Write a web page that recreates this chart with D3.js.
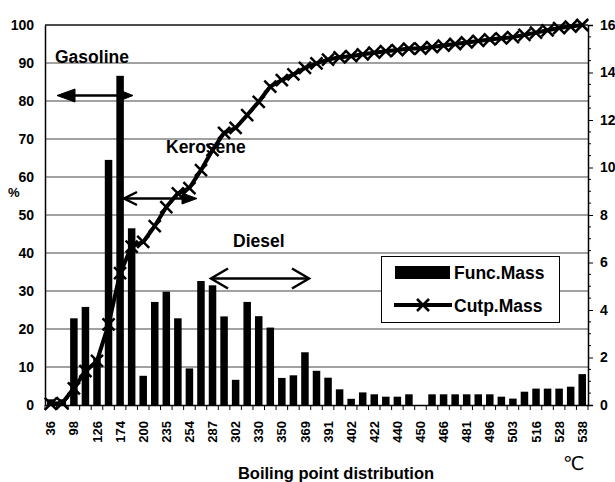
<!DOCTYPE html>
<html>
<head>
<meta charset="utf-8">
<script src="https://cdn.jsdelivr.net/npm/d3@7"></script>
<style>
  html, body { margin: 0; padding: 0; background: #fff; }
  svg { display: block; }
  text { font-family: "Liberation Sans", Arial, sans-serif; font-weight: bold; fill: #000; }
</style>
</head>
<body>
<svg id="chart" width="615" height="482"></svg>
<script>
// ---- data ----
const tickLabels = ["36","98","126","174","200","235","254","287","302","330","350","369",
                    "391","402","422","440","450","466","481","496","503","516","528","538"];
// Func.Mass, right axis (0-16)
const funcMass = [0.24, 0.24, 3.65, 4.13, 1.95, 10.32, 13.86, 7.44, 1.23, 4.34, 4.77, 3.65,
                  1.54, 5.22, 5.04, 3.73, 1.06, 4.34, 3.74, 3.26, 1.14, 1.25, 2.22, 1.44,
                  1.15, 0.66, 0.26, 0.53, 0.45, 0.35, 0.35, 0.45, 0.0, 0.45, 0.45, 0.45,
                  0.45, 0.45, 0.45, 0.35, 0.27, 0.56, 0.69, 0.69, 0.69, 0.77, 1.30];
// Cutp.Mass, left axis (%)
const cutpMass = [0.3, 0.5, 4.4, 8.9, 11.6, 21.2, 34.7, 41.7, 42.9, 47.1, 52.1, 55.7,
                  57.1, 61.8, 67.1, 71.6, 72.9, 76.3, 79.8, 83.8, 85.5, 87.0, 88.7, 89.9,
                  90.9, 91.5, 91.8, 92.3, 92.7, 93.1, 93.4, 93.8, 93.8, 94.2, 94.6, 95.0,
                  95.4, 95.8, 96.2, 96.5, 96.8, 97.4, 98.0, 98.6, 99.2, 99.6, 100];
const leftTicks = [0,10,20,30,40,50,60,70,80,90,100];
const rightTicks = [0,2,4,6,8,10,12,14,16];
const annotations = [
  {label: "Gasoline", tx: 55, ty: 63},
  {label: "Kerosene", tx: 166, ty: 153},
  {label: "Diesel", tx: 233, ty: 247}
];
const seriesNames = ["Func.Mass", "Cutp.Mass"];

// ---- layout ----
const L = 45, R = 588, T = 25, B = 405;
const svg = d3.select("#chart");
const idx = d3.range(funcMass.length);

const x = d3.scaleBand().domain(idx).range([L, R]).paddingInner(0.35).paddingOuter(0.175);
const yL = d3.scaleLinear().domain([0, 100]).range([B, T]);
const yR = d3.scaleLinear().domain([0, 16]).range([B, T]);
const cx = i => x(i) + x.bandwidth() / 2;

// gridlines
svg.append("g").selectAll("line").data(leftTicks.filter(d => d > 0)).join("line")
  .attr("x1", L).attr("x2", R)
  .attr("y1", d => yL(d)).attr("y2", d => yL(d))
  .attr("stroke", d => d === 100 ? "#111" : "#444").attr("stroke-width", d => d === 100 ? 1.5 : 1.1);

// bars
svg.append("g").selectAll("rect").data(idx).join("rect")
  .attr("x", i => x(i)).attr("width", x.bandwidth())
  .attr("y", i => yR(funcMass[i])).attr("height", i => B - yR(funcMass[i]))
  .attr("fill", "#000");

// left axis
const gl = svg.append("g").attr("transform", `translate(${L},0)`)
  .call(d3.axisLeft(yL).tickValues(leftTicks).tickSize(0).tickPadding(11));
gl.select(".domain").attr("stroke", "#000").attr("stroke-width", 1.5);
gl.selectAll("text").style("font-size", "14px").style("font-family", "'Liberation Sans', Arial, sans-serif").style("font-weight", "bold");

// right axis
const gr = svg.append("g").attr("transform", `translate(${R},0)`)
  .call(d3.axisRight(yR).tickValues(rightTicks).tickSize(5).tickPadding(7));
gr.select(".domain").attr("stroke", "#000").attr("stroke-width", 1.5);
gr.selectAll("line").attr("stroke", "#000");
gr.selectAll("text").style("font-size", "14px").style("font-family", "'Liberation Sans', Arial, sans-serif").style("font-weight", "bold");
// minor ticks on right axis
svg.append("g").selectAll("line").data(d3.range(0, 16.01, 0.5).filter(v => v % 2 !== 0)).join("line")
  .attr("x1", R).attr("x2", R + 3).attr("y1", d => yR(d)).attr("y2", d => yR(d))
  .attr("stroke", "#000").attr("stroke-width", 1);

// bottom axis
const gb = svg.append("g").attr("transform", `translate(0,${B})`)
  .call(d3.axisBottom(x).tickSize(0).tickPadding(0)
        .tickFormat(i => i % 2 === 0 ? tickLabels[i / 2] : ""));
gb.select(".domain").attr("stroke", "#000").attr("stroke-width", 1.5);
gb.selectAll(".tick text")
  .attr("transform", "translate(0,16) rotate(-90)")
  .attr("text-anchor", "end").attr("x", 0).attr("y", 0).attr("dy", "0.35em")
  .style("font-size", "13px").style("font-family", "'Liberation Sans', Arial, sans-serif").style("font-weight", "bold");
// boundary ticks between categories
svg.append("g").selectAll("line").data(idx.concat([idx.length])).join("line")
  .attr("x1", i => L + i * x.step())
  .attr("x2", i => L + i * x.step())
  .attr("y1", B).attr("y2", B + 5)
  .attr("stroke", "#000").attr("stroke-width", 1);

// axis titles
svg.append("text").attr("x", 8).attr("y", 197).style("font-size", "13px").text("%");
svg.append("text").attr("x", 336).attr("y", 479).attr("text-anchor", "middle")
  .style("font-size", "16.5px").text("Boiling point distribution");
svg.append("text").attr("x", 563).attr("y", 470).style("font-size", "19px")
  .style("font-family", "'DejaVu Sans', sans-serif").style("font-weight", "normal").text("℃");

// annotation texts
svg.append("g").selectAll("text").data(annotations).join("text")
  .attr("x", d => d.tx).attr("y", d => d.ty).style("font-size", "17.5px").text(d => d.label);

// arrows
const ag = svg.append("g").attr("stroke", "#000").attr("stroke-width", 2.5).attr("fill", "#000");
// Gasoline
ag.append("line").attr("x1", 62).attr("x2", 128).attr("y1", 95.5).attr("y2", 95.5);
ag.append("path").attr("d", "M57,95.5 L75,89 L75,102 Z").attr("stroke-width", 1);
ag.append("path").attr("d", "M133,95.5 L119,90 L119,101 Z").attr("stroke-width", 1);
// Kerosene
ag.append("line").attr("x1", 124).attr("x2", 192).attr("y1", 198.5).attr("y2", 198.5);
ag.append("path").attr("d", "M137,192 L124,198.5 L137,205").attr("fill", "none");
ag.append("path").attr("d", "M197,198.5 L182,193 L182,204 Z").attr("stroke-width", 1);
// Diesel
ag.append("line").attr("x1", 211).attr("x2", 309).attr("y1", 278.5).attr("y2", 278.5);
ag.append("path").attr("d", "M228,268.5 L211,278.5 L228,288.5").attr("fill", "none");
ag.append("path").attr("d", "M292,268.5 L309,278.5 L292,288.5").attr("fill", "none");

// cumulative line
const line = d3.line().x(i => cx(i)).y(i => yL(cutpMass[i]));
svg.append("path").datum(idx).attr("d", line)
  .attr("fill", "none").attr("stroke", "#000").attr("stroke-width", 4).attr("stroke-linejoin", "round");
const xm = (px, py, s) => `M${px - s},${py - s}L${px + s},${py + s}M${px - s},${py + s}L${px + s},${py - s}`;
svg.append("g").selectAll("path").data(idx).join("path")
  .attr("d", i => xm(cx(i), yL(cutpMass[i]), 6))
  .attr("stroke", "#000").attr("stroke-width", 2.5).attr("fill", "none");

// legend
const lg = svg.append("g");
lg.append("rect").attr("x", 381.5).attr("y", 256.5).attr("width", 178).attr("height", 66)
  .attr("fill", "#fff").attr("stroke", "#000").attr("stroke-width", 1);
lg.append("rect").attr("x", 395).attr("y", 266).attr("width", 55).attr("height", 13).attr("fill", "#000");
lg.append("text").attr("x", 454).attr("y", 279).style("font-size", "17.5px").text(seriesNames[0]);
lg.append("line").attr("x1", 394).attr("x2", 452).attr("y1", 305).attr("y2", 305)
  .attr("stroke", "#000").attr("stroke-width", 4);
lg.append("path").attr("d", xm(423, 305, 6)).attr("stroke", "#000").attr("stroke-width", 2.5);
lg.append("text").attr("x", 454).attr("y", 312).style("font-size", "17.5px").text(seriesNames[1]);
</script>
</body>
</html>
